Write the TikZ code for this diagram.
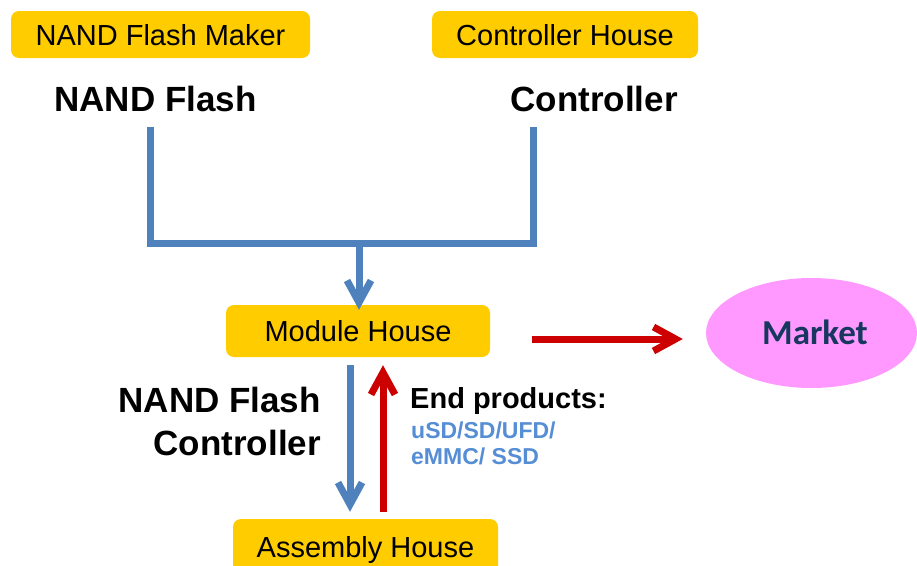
\documentclass[tikz,border=0pt]{standalone}
\usepackage{fontspec}
\setmainfont{Liberation Sans}
\newfontfamily\calibrifont{Carlito}
\usetikzlibrary{arrows.meta,calc,shapes.geometric}
\definecolor{boxyellow}{HTML}{FFCC00}
\definecolor{lineblue}{HTML}{4F81BD}
\definecolor{linered}{HTML}{CC0000}
\definecolor{marketpink}{HTML}{FF99FF}
\definecolor{marketnavy}{HTML}{17375E}
\definecolor{prodblue}{HTML}{558ED5}
\begin{document}
\begin{tikzpicture}[x=1pt,y=-1pt,
  ybox/.style={fill=boxyellow, rounded corners=8pt, inner sep=0pt,
    text height=21pt, text depth=0pt, font=\fontsize{29}{34}\selectfont},
  blbl/.style={font=\bfseries\fontsize{35}{42}\selectfont, inner sep=0pt,
    text height=25pt, text depth=0pt},
  barb/.style={-{Straight Barb[length=22pt,width=24pt]}},
  blueline/.style={draw=lineblue, line width=7pt},
  bluearrow/.style={blueline, barb},
  redarrow/.style={draw=linered, line width=7pt, barb}]
\useasboundingbox (0,0) rectangle (917,565);
\clip (0,0) rectangle (917,565);

\node[ybox, minimum width=299pt, minimum height=47pt] (maker) at (160.5,34.5) {NAND Flash Maker};
\node[ybox, minimum width=266pt, minimum height=47pt] (chouse) at (565,34.5) {Controller House};
\node[blbl] (nand) at (155.5,99) {NAND Flash};
\node[blbl] (ctrl) at (594,99) {Controller};
\node[ybox, minimum width=264pt, minimum height=52pt] (module) at (358,331) {Module House};
\node[ybox, minimum width=265pt, minimum height=56pt] (assembly) at (365.5,547) {Assembly House};
\node[ellipse, fill=marketpink, minimum width=211pt, minimum height=110pt, inner sep=0pt,
  text=marketnavy, font=\calibrifont\bfseries\fontsize{35}{42}\selectfont,
  text height=22pt, text depth=0pt] (market) at (811.5,333) {\hspace*{7pt}Market};

\node[align=right, anchor=base east, inner sep=0pt,
  font=\bfseries\fontsize{35}{43}\selectfont] (nfc) at (321,455.5) {NAND Flash\\Controller};
\node[anchor=base west, inner sep=0pt, font=\bfseries\fontsize{29}{34}\selectfont] (endp) at (410,408.5) {End products:};
\node[anchor=base west, inner sep=0pt, text=prodblue, font=\bfseries\fontsize{23}{27}\selectfont] (prod1) at (411,438.5) {uSD/SD/UFD/};
\node[anchor=base west, inner sep=0pt, text=prodblue, font=\bfseries\fontsize{23}{27}\selectfont] (prod2) at (411,464) {eMMC/ SSD};

% top merge lines
\coordinate (nandout) at (150,127);
\coordinate (ctrlout) at (533,127);
\coordinate (jn) at (359,243);
\draw[blueline] (nandout) |- (jn) -| (ctrlout);
\draw[bluearrow, shorten >=-5pt] (jn) -- (jn |- module.north);

% module <-> assembly
\coordinate (mb1) at ($(module.south)+(-8,8)$);
\coordinate (ab1) at (mb1 |- assembly.north);
\draw[bluearrow, shorten >=7pt] (mb1) -- (ab1);
\coordinate (ab2) at ($(assembly.north)+(17.5,-7)$);
\coordinate (mb2) at (ab2 |- module.south);
\draw[redarrow, shorten >=8pt] (ab2) -- (mb2);

% module -> market
\coordinate (ra1) at ($(module.east)+(42,8)$);
\coordinate (ra2) at (ra1 -| market.west);
\draw[redarrow, shorten >=23pt] (ra1) -- (ra2);
\end{tikzpicture}
\end{document}
